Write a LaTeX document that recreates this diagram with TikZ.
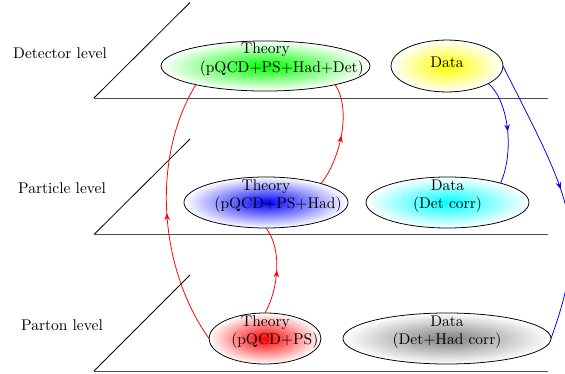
\documentclass[tikz,border=0pt]{standalone}
\usetikzlibrary{shapes.geometric,arrows.meta,decorations.markings}
\begin{document}
\begin{tikzpicture}[x=0.645pt,y=-0.645pt,
  plane/.style={black!70, line width=0.6pt},
  diag/.style={black, line width=0.5pt},
  blob/.style={ellipse, draw=black, line width=0.5pt, inner sep=0pt, outer sep=0pt},
  txt/.style={align=center, inner sep=0pt},
  lvl/.style={inner sep=0pt},
  conn/.style={line width=0.5pt},
  midarrow/.style={postaction={decorate}, decoration={markings,
      mark=at position #1 with {\arrow{Stealth[length=4.5pt,width=3.6pt,inset=1.6pt]}}}}
]
\clip (0,0) rectangle (565,374);
% planes
\draw[diag] (94,98) -- (190,2.5);
\draw[plane] (94,98) -- (548,98);
\draw[diag] (94,234.5) -- (190,139);
\draw[plane] (94,234.5) -- (548,234.5);
\draw[diag] (94,371) -- (190,275);
\draw[plane] (94,371) -- (548,371);
% level labels
\node[lvl] (ldet) at (60,53) {Detector level};
\node[lvl] (lpar) at (62,188) {Particle level};
\node[lvl] (lprt) at (62,325) {Parton level};
% ellipses
\node[blob, shade, inner color=green, outer color=white, minimum width=134.8pt, minimum height=32.3pt] (tg) at (265.5,66) {};
\node[blob, shade, inner color=yellow, outer color=white, minimum width=72.2pt, minimum height=33.5pt] (dy) at (447,66) {};
\node[blob, shade, inner color=blue, outer color=white, minimum width=105.8pt, minimum height=32.9pt] (tb) at (266,202.5) {};
\node[blob, shade, inner color=cyan, outer color=white, minimum width=105.1pt, minimum height=32.9pt] (dc) at (447.5,202.5) {};
\node[blob, shade, inner color=red, outer color=white, minimum width=72.2pt, minimum height=32.9pt] (tr) at (265,338.5) {};
\node[blob, shade, inner color=gray, outer color=white, minimum width=134.2pt, minimum height=32.9pt] (dg) at (447,338.5) {};
% texts
\node[txt] (tgt) at (265.5,59.5) {Theory\\\hspace*{21pt}(pQCD+PS+Had+Det)};
\node[txt] (dyt) at (447,62) {Data};
\node[txt] (tbt) at (266,196) {Theory\\\hspace*{15.5pt}(pQCD+PS+Had)};
\node[txt] (dct) at (447.5,196) {Data\\(Det corr)};
\node[txt] (trt) at (265.5,332) {Theory\\\hspace*{12pt}(pQCD+PS)};
\node[txt] (dgt) at (447,332) {Data\\(Det+Had corr)};
% connectors
\draw[red, conn, midarrow=0.5] (tr.north) .. controls (278,290) and (283,250) .. (tb.south);
\draw[red, conn, midarrow=0.5] (tb.19) .. controls (340,160) and (352,110) .. (tg.-15);
\draw[red, conn, midarrow=0.5] (tr.west) .. controls (160,270) and (150,160) .. (tg.195);
\draw[blue, conn, midarrow=0.5] (dy.-23) .. controls (508,100) and (515,150) .. (dc.20);
\draw[blue, conn, midarrow=0.47] (dy.east) .. controls (571,200) and (590,230) .. (dg.east);
\end{tikzpicture}
\end{document}
